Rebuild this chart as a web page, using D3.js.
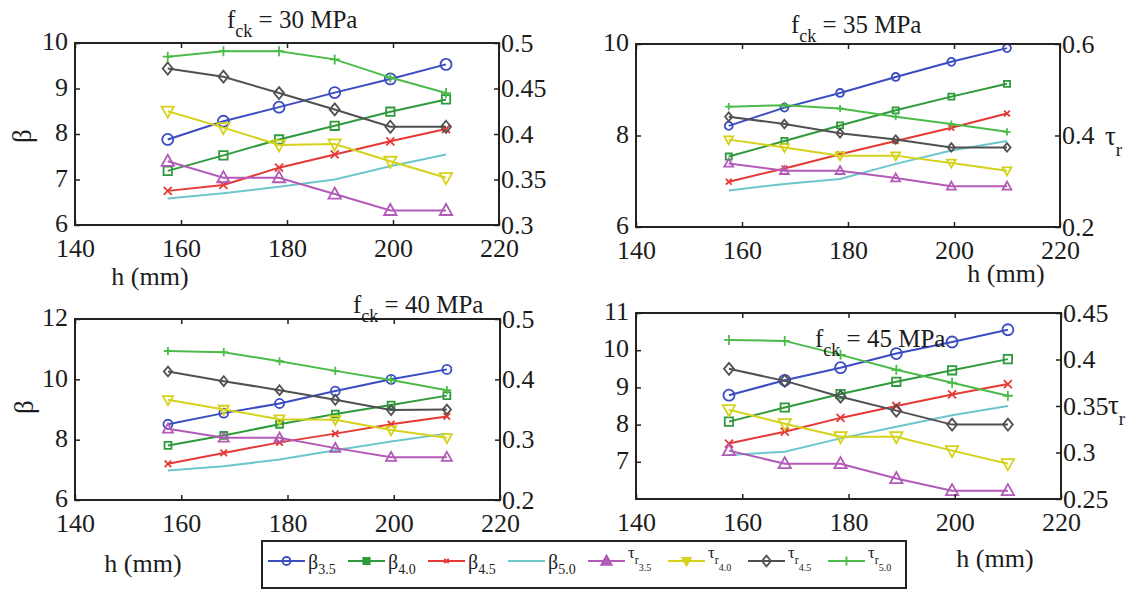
<!DOCTYPE html>
<html>
<head>
<meta charset="utf-8">
<script src="https://cdn.jsdelivr.net/npm/d3@7"></script>
<style>
body{margin:0;background:#fff}
svg text{font-family:"Liberation Serif","Times New Roman",serif;fill:#1c1c1c}
</style>
</head>
<body>
<div id="chart"></div>
<script>

// slab depth (mm) on the x axis
var hValues = [157.5, 168, 178.5, 189, 199.5, 210]
var strengths = [30, 35, 40, 45]

// reliability index beta, rows = beta3.5, beta4.0, beta4.5, beta5.0
var beta30 = [
  [7.88, 8.28, 8.59, 8.91, 9.21, 9.53],
  [7.19, 7.53, 7.88, 8.18, 8.49, 8.76],
  [6.75, 6.88, 7.26, 7.55, 7.84, 8.11],
  [6.58, 6.70, 6.84, 7.00, 7.29, 7.55]]
var beta35 = [
  [8.21, 8.61, 8.93, 9.28, 9.61, 9.91],
  [7.54, 7.88, 8.22, 8.55, 8.85, 9.13],
  [6.99, 7.28, 7.59, 7.88, 8.17, 8.48],
  [6.80, 6.94, 7.05, 7.38, 7.67, 7.88]]
var beta40 = [
  [8.51, 8.88, 9.20, 9.61, 10.00, 10.33],
  [7.81, 8.14, 8.51, 8.85, 9.15, 9.46],
  [7.20, 7.56, 7.91, 8.20, 8.51, 8.77],
  [6.98, 7.12, 7.34, 7.65, 7.94, 8.20]]
var beta45 = [
  [8.79, 9.19, 9.53, 9.91, 10.22, 10.55],
  [8.08, 8.46, 8.82, 9.15, 9.46, 9.76],
  [7.49, 7.81, 8.18, 8.50, 8.81, 9.09],
  [7.18, 7.27, 7.63, 7.94, 8.25, 8.50]]

// tau_r, rows = tau_r3.5, tau_r4.0, tau_r4.5, tau_r5.0
var tau30 = [
  [0.370, 0.352, 0.352, 0.334, 0.316, 0.316],
  [0.425, 0.407, 0.388, 0.389, 0.370, 0.352],
  [0.472, 0.463, 0.445, 0.427, 0.408, 0.408],
  [0.485, 0.491, 0.491, 0.482, 0.462, 0.445]]
var tau35 = [
  [0.339, 0.323, 0.323, 0.307, 0.289, 0.289],
  [0.391, 0.374, 0.356, 0.356, 0.340, 0.323],
  [0.441, 0.425, 0.405, 0.391, 0.374, 0.374],
  [0.463, 0.466, 0.459, 0.441, 0.425, 0.408]]
var tau40 = [
  [0.318, 0.303, 0.303, 0.286, 0.271, 0.271],
  [0.366, 0.350, 0.334, 0.333, 0.316, 0.303],
  [0.413, 0.397, 0.382, 0.366, 0.349, 0.350],
  [0.447, 0.445, 0.430, 0.414, 0.399, 0.382]]
var tau45 = [
  [0.302, 0.288, 0.288, 0.272, 0.259, 0.259],
  [0.346, 0.331, 0.317, 0.317, 0.302, 0.288],
  [0.390, 0.377, 0.360, 0.345, 0.330, 0.330],
  [0.421, 0.420, 0.405, 0.389, 0.375, 0.361]]

var betaSets = [beta30, beta35, beta40, beta45]
var tauSets = [tau30, tau35, tau40, tau45]

// axes
var hDomain = [140, 220]
var hTicks = [140, 160, 180, 200, 220]
var betaDomains = [[6, 10], [6, 10], [6, 12], [6, 11]]
var betaTicks = [[6, 7, 8, 9, 10], [6, 8, 10], [6, 8, 10, 12], [7, 8, 9, 10, 11]]
var tauDomains = [[0.3, 0.5], [0.2, 0.6], [0.2, 0.5], [0.25, 0.45]]
var tauTicks = [[0.3, 0.35, 0.4, 0.45, 0.5], [0.2, 0.4, 0.6], [0.2, 0.3, 0.4, 0.5], [0.25, 0.3, 0.35, 0.4, 0.45]]

// legend
var betaNames = ["3.5", "4.0", "4.5", "5.0"]
var tauNames = ["3.5", "4.0", "4.5", "5.0"]


var w = 1140
var h = 590
var svg = d3.select("#chart").append("svg").attr("width", w).attr("height", h)

var serif = "'Liberation Serif', 'Times New Roman', serif"
var betaColors = ["#3a4cc0", "#2f9a3c", "#e53935", "#6cc7cc"]
var tauColors = ["#b25ab8", "#d4d21a", "#505050", "#4cbb4a"]
var betaMarks = ["circle", "square", "x", null]
var tauMarks = ["triUp", "triDown", "diamond", "plus"]

// plot boxes and where each panel's labels sit
var panels = [
  {x: 75, y: 43, w: 424, h: 182, ms: 1, title: [227, 28], xl: [150, 285], yl: "beta", ylp: [22, 136]},
  {x: 636, y: 44, w: 424, h: 183, ms: 0.72, title: [791, 33], xl: [1006, 282], yl: "tau", ylp: [1105, 145]},
  {x: 75, y: 319, w: 425, h: 181, ms: 0.82, title: [353, 313], xl: [143, 572], yl: "beta", ylp: [24, 407]},
  {x: 636, y: 313, w: 425, h: 186, ms: 1, title: [815, 347], xl: [995, 567], yl: "tau", ylp: [1108, 414]}
]

function markerPath(type, s) {
  if (type == "circle") return d3.symbol().type(d3.symbolCircle).size(Math.PI * s * s)()
  if (type == "square") return "M" + (-s) + "," + (-s) + "H" + s + "V" + s + "H" + (-s) + "Z"
  if (type == "x") return "M" + (-s) + "," + (-s) + "L" + s + "," + s + "M" + (-s) + "," + s + "L" + s + "," + (-s)
  if (type == "plus") return "M" + (-s) + ",0H" + s + "M0," + (-s) + "V" + s
  if (type == "diamond") return "M0," + (-s * 1.2) + "L" + s + ",0L0," + (s * 1.2) + "L" + (-s) + ",0Z"
  if (type == "triUp") return "M0," + (-s) + "L" + (s * 0.95) + "," + (s * 0.7) + "L" + (-s * 0.95) + "," + (s * 0.7) + "Z"
  if (type == "triDown") return "M0," + s + "L" + (s * 0.95) + "," + (-s * 0.7) + "L" + (-s * 0.95) + "," + (-s * 0.7) + "Z"
  return ""
}
var markSize = {circle: 5.5, square: 4.2, x: 4, triUp: 6.5, triDown: 6.5, diamond: 5, plus: 5}

panels.forEach(function(p, i) {
  var g = svg.append("g")
  var xScale = d3.scaleLinear().domain(hDomain).range([p.x, p.x + p.w])
  var yBeta = d3.scaleLinear().domain(betaDomains[i]).range([p.y + p.h, p.y])
  var yTau = d3.scaleLinear().domain(tauDomains[i]).range([p.y + p.h, p.y])

  g.append("rect").attr("x", p.x).attr("y", p.y).attr("width", p.w).attr("height", p.h)
    .attr("fill", "white")

  function drawSeries(values, yScale, color, mark) {
    var pts = values.map(function(v, k) { return [hValues[k], v] })
    var line = d3.line()
      .x(function(d) { return xScale(d[0]) })
      .y(function(d) { return yScale(d[1]) })
    g.append("path").datum(pts).attr("d", line)
      .attr("fill", "none").attr("stroke", color).attr("stroke-width", 2)
    if (!mark) return
    g.selectAll(null).data(pts).enter().append("path")
      .attr("transform", function(d) { return "translate(" + xScale(d[0]) + "," + yScale(d[1]) + ")" })
      .attr("d", markerPath(mark, markSize[mark] * p.ms))
      .attr("fill", "none").attr("stroke", color).attr("stroke-width", 1.8)
  }
  betaSets[i].forEach(function(s, k) { drawSeries(s, yBeta, betaColors[k], betaMarks[k]) })
  tauSets[i].forEach(function(s, k) { drawSeries(s, yTau, tauColors[k], tauMarks[k]) })

  // axes, matlab style ticks pointing inwards
  var ax = g.append("g").attr("class", "axes")
  ax.append("g").attr("transform", "translate(0," + (p.y + p.h) + ")")
    .call(d3.axisBottom(xScale).tickValues(hTicks).tickSize(-5).tickPadding(14).tickFormat(d3.format("d")))
  ax.append("g").attr("transform", "translate(0," + p.y + ")")
    .call(d3.axisTop(xScale).tickValues(hTicks).tickSize(-5).tickFormat(""))
  var left = ax.append("g").attr("transform", "translate(" + p.x + ",0)")
    .call(d3.axisLeft(yBeta).tickValues(betaTicks[i]).tickSize(-5).tickPadding(7).tickFormat(d3.format("d")))
  left.selectAll("text").attr("dy", "0.26em")
  ax.append("g").attr("transform", "translate(" + (p.x + p.w) + ",0)")
    .call(d3.axisRight(yTau).tickValues(tauTicks[i]).tickSize(-5).tickPadding(2).tickFormat(function(d) { return +d.toFixed(2) }))
  ax.selectAll(".domain").remove()
  ax.selectAll(".tick line").attr("stroke", "#222").attr("stroke-width", 1.5)
  ax.selectAll("text").attr("fill", "#1c1c1c")
    .style("font-family", serif).style("font-size", "26px")

  g.append("rect").attr("x", p.x).attr("y", p.y).attr("width", p.w).attr("height", p.h)
    .attr("fill", "none").attr("stroke", "#222").attr("stroke-width", 2)

  // title f_ck = .. MPa
  var t = svg.append("text").attr("x", p.title[0]).attr("y", p.title[1]).style("font-size", "25px")
  t.append("tspan").text("f")
  t.append("tspan").attr("dy", 9).style("font-size", "18px").text("ck")
  t.append("tspan").attr("dy", -9).text(" = " + strengths[i] + " MPa")

  svg.append("text").attr("x", p.xl[0]).attr("y", p.xl[1]).attr("text-anchor", "middle")
    .style("font-size", "26px").text("h (mm)")

  if (p.yl == "beta") {
    svg.append("text").attr("transform", "translate(" + p.ylp[0] + "," + p.ylp[1] + ") rotate(-90)")
      .attr("text-anchor", "middle").attr("dy", "0.35em").style("font-size", "27px").text("β")
  } else {
    var tl = svg.append("text").attr("x", p.ylp[0]).attr("y", p.ylp[1]).style("font-size", "27px")
    tl.append("tspan").text("τ")
    tl.append("tspan").attr("dy", 11).style("font-size", "19px").text("r")
  }
})

// legend
var lg = svg.append("g")
lg.append("rect").attr("x", 262).attr("y", 541).attr("width", 644).attr("height", 47)
  .attr("fill", "white").attr("stroke", "#222").attr("stroke-width", 2)

var legendItems = betaNames.map(function(n, k) {
  return {kind: "beta", sub: n, color: betaColors[k], mark: betaMarks[k]}
}).concat(tauNames.map(function(n, k) {
  return {kind: "tau", sub: n, color: tauColors[k], mark: tauMarks[k]}
}))
var legendFill = [false, true, true, false, true, true, false, false]
var legendSize = [4, 3.2, 2.2, 0, 5.5, 4.5, 4.5, 4.5]

var xLeg = d3.scaleLinear().domain([0, 7]).range([268, 828])
legendItems.forEach(function(it, k) {
  var x0 = xLeg(k)
  lg.append("line").attr("x1", x0).attr("x2", x0 + 37).attr("y1", 561).attr("y2", 561)
    .attr("stroke", it.color).attr("stroke-width", 2)
  if (it.mark) {
    lg.append("path").attr("transform", "translate(" + (x0 + 18.5) + ",561)")
      .attr("d", markerPath(it.mark, legendSize[k]))
      .attr("fill", legendFill[k] ? it.color : "none").attr("stroke", it.color).attr("stroke-width", 1.8)
  }
  var tx = lg.append("text").attr("x", x0 + 40)
  if (it.kind == "beta") {
    tx.attr("y", 569).style("font-size", "20px")
    tx.append("tspan").text("β")
    tx.append("tspan").attr("dy", 5).style("font-size", "14px").text(it.sub)
  } else {
    tx.attr("y", 558).style("font-size", "17px")
    tx.append("tspan").text("τ")
    tx.append("tspan").attr("dy", 6).style("font-size", "12px").text("r")
    tx.append("tspan").attr("dy", 7).style("font-size", "10px").text(it.sub)
  }
})

</script>
</body>
</html>
